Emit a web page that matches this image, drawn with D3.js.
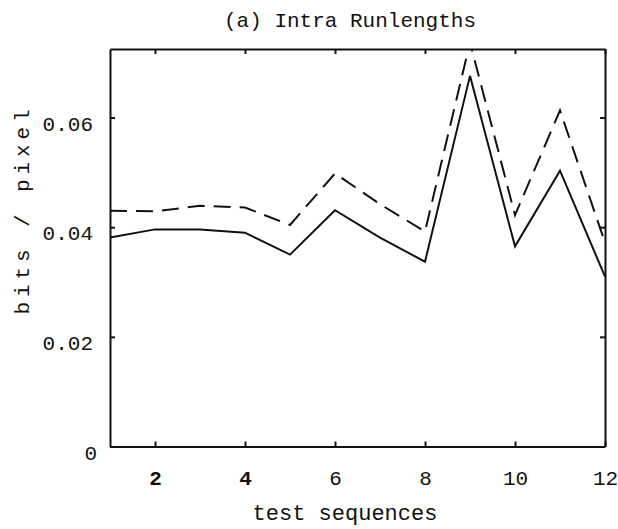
<!DOCTYPE html>
<html>
<head>
<meta charset="utf-8">
<script src="https://cdn.jsdelivr.net/npm/d3@7"></script>
<style>
body { margin: 0; background: #fff; }
text { font-family: "Liberation Mono", "Courier New", monospace; fill: #111; }
.frame path, .frame line { stroke: #111; stroke-width: 2px; }
.curve { fill: none; stroke: #111; stroke-width: 2px; stroke-linejoin: miter; }
</style>
</head>
<body>
<div id="chart"></div>
<script>
// values
const sequences = [1, 2, 3, 4, 5, 6, 7, 8, 9, 10, 11, 12];
const solidBits = [0.0381, 0.0396, 0.0396, 0.0390, 0.0350, 0.0431, 0.0381, 0.0337, 0.0676, 0.0365, 0.0503, 0.0310];
const dashedBits = [0.0430, 0.0429, 0.0439, 0.0436, 0.0404, 0.0498, 0.0442, 0.0392, 0.0737, 0.0422, 0.0613, 0.0372];
const xTicks = [2, 4, 6, 8, 10, 12];
const yTicks = [0, 0.02, 0.04, 0.06];
const yLabels = ["0", "0.02", "0.04", "0.06"];

const W = 618, H = 529;
const plotLeft = 110, plotRight = 605, plotTop = 49, plotBottom = 446.5;

const svg = d3.select("#chart").append("svg")
  .attr("width", W)
  .attr("height", H);

const x = d3.scaleLinear().domain([1, 12]).range([plotLeft, plotRight]);
const y = d3.scaleLinear().domain([0, 0.0725]).range([plotBottom, plotTop]);

svg.append("defs").append("clipPath").attr("id", "plotClip")
  .append("rect")
  .attr("x", plotLeft).attr("y", plotTop)
  .attr("width", plotRight - plotLeft).attr("height", plotBottom - plotTop);

// lines
const line = d3.line().x((d, i) => x(sequences[i])).y(d => y(d));
const plot = svg.append("g").attr("clip-path", "url(#plotClip)");
plot.append("path").datum(solidBits).attr("class", "curve").attr("d", line);
plot.append("path").datum(dashedBits).attr("class", "curve")
  .attr("stroke-dasharray", "17,9").attr("d", line);

// frame with inward ticks
const bottomAxis = svg.append("g").attr("class", "frame")
  .attr("transform", `translate(0,${plotBottom})`)
  .call(d3.axisBottom(x).tickValues(xTicks).tickSizeInner(-5).tickSizeOuter(0).tickPadding(24));
bottomAxis.selectAll("text").attr("font-size", 21)
  .attr("font-weight", d => d <= 4 ? "bold" : null); // the scan prints 2 and 4 heavier

svg.append("g").attr("class", "frame")
  .attr("transform", `translate(0,${plotTop})`)
  .call(d3.axisTop(x).tickValues(xTicks).tickSizeInner(-5).tickSizeOuter(0).tickFormat(""));

const leftAxis = svg.append("g").attr("class", "frame")
  .attr("transform", `translate(${plotLeft},0)`)
  .call(d3.axisLeft(y).tickValues(yTicks).tickSizeInner(-5).tickSizeOuter(0).tickPadding(17)
    .tickFormat((d, i) => yLabels[i]));
leftAxis.selectAll("text").attr("font-size", 21).attr("dy", "0.6em");
leftAxis.selectAll(".tick").filter(d => d === 0).select("text").attr("x", -13);

svg.append("g").attr("class", "frame")
  .attr("transform", `translate(${plotRight},0)`)
  .call(d3.axisRight(y).tickValues(yTicks).tickSizeInner(-5).tickSizeOuter(0).tickFormat(""));

// titles
svg.append("text")
  .attr("x", 350).attr("y", 27)
  .attr("text-anchor", "middle")
  .attr("font-size", 21)
  .text("(a) Intra Runlengths");

svg.append("text")
  .attr("x", 345).attr("y", 520)
  .attr("text-anchor", "middle")
  .attr("font-size", 22)
  .text("test sequences");

svg.append("text")
  .attr("transform", "translate(29,212) rotate(-90)")
  .attr("text-anchor", "middle")
  .attr("font-size", 21)
  .attr("textLength", 205)
  .attr("lengthAdjust", "spacing")
  .text("bits / pixel");
</script>
</body>
</html>
